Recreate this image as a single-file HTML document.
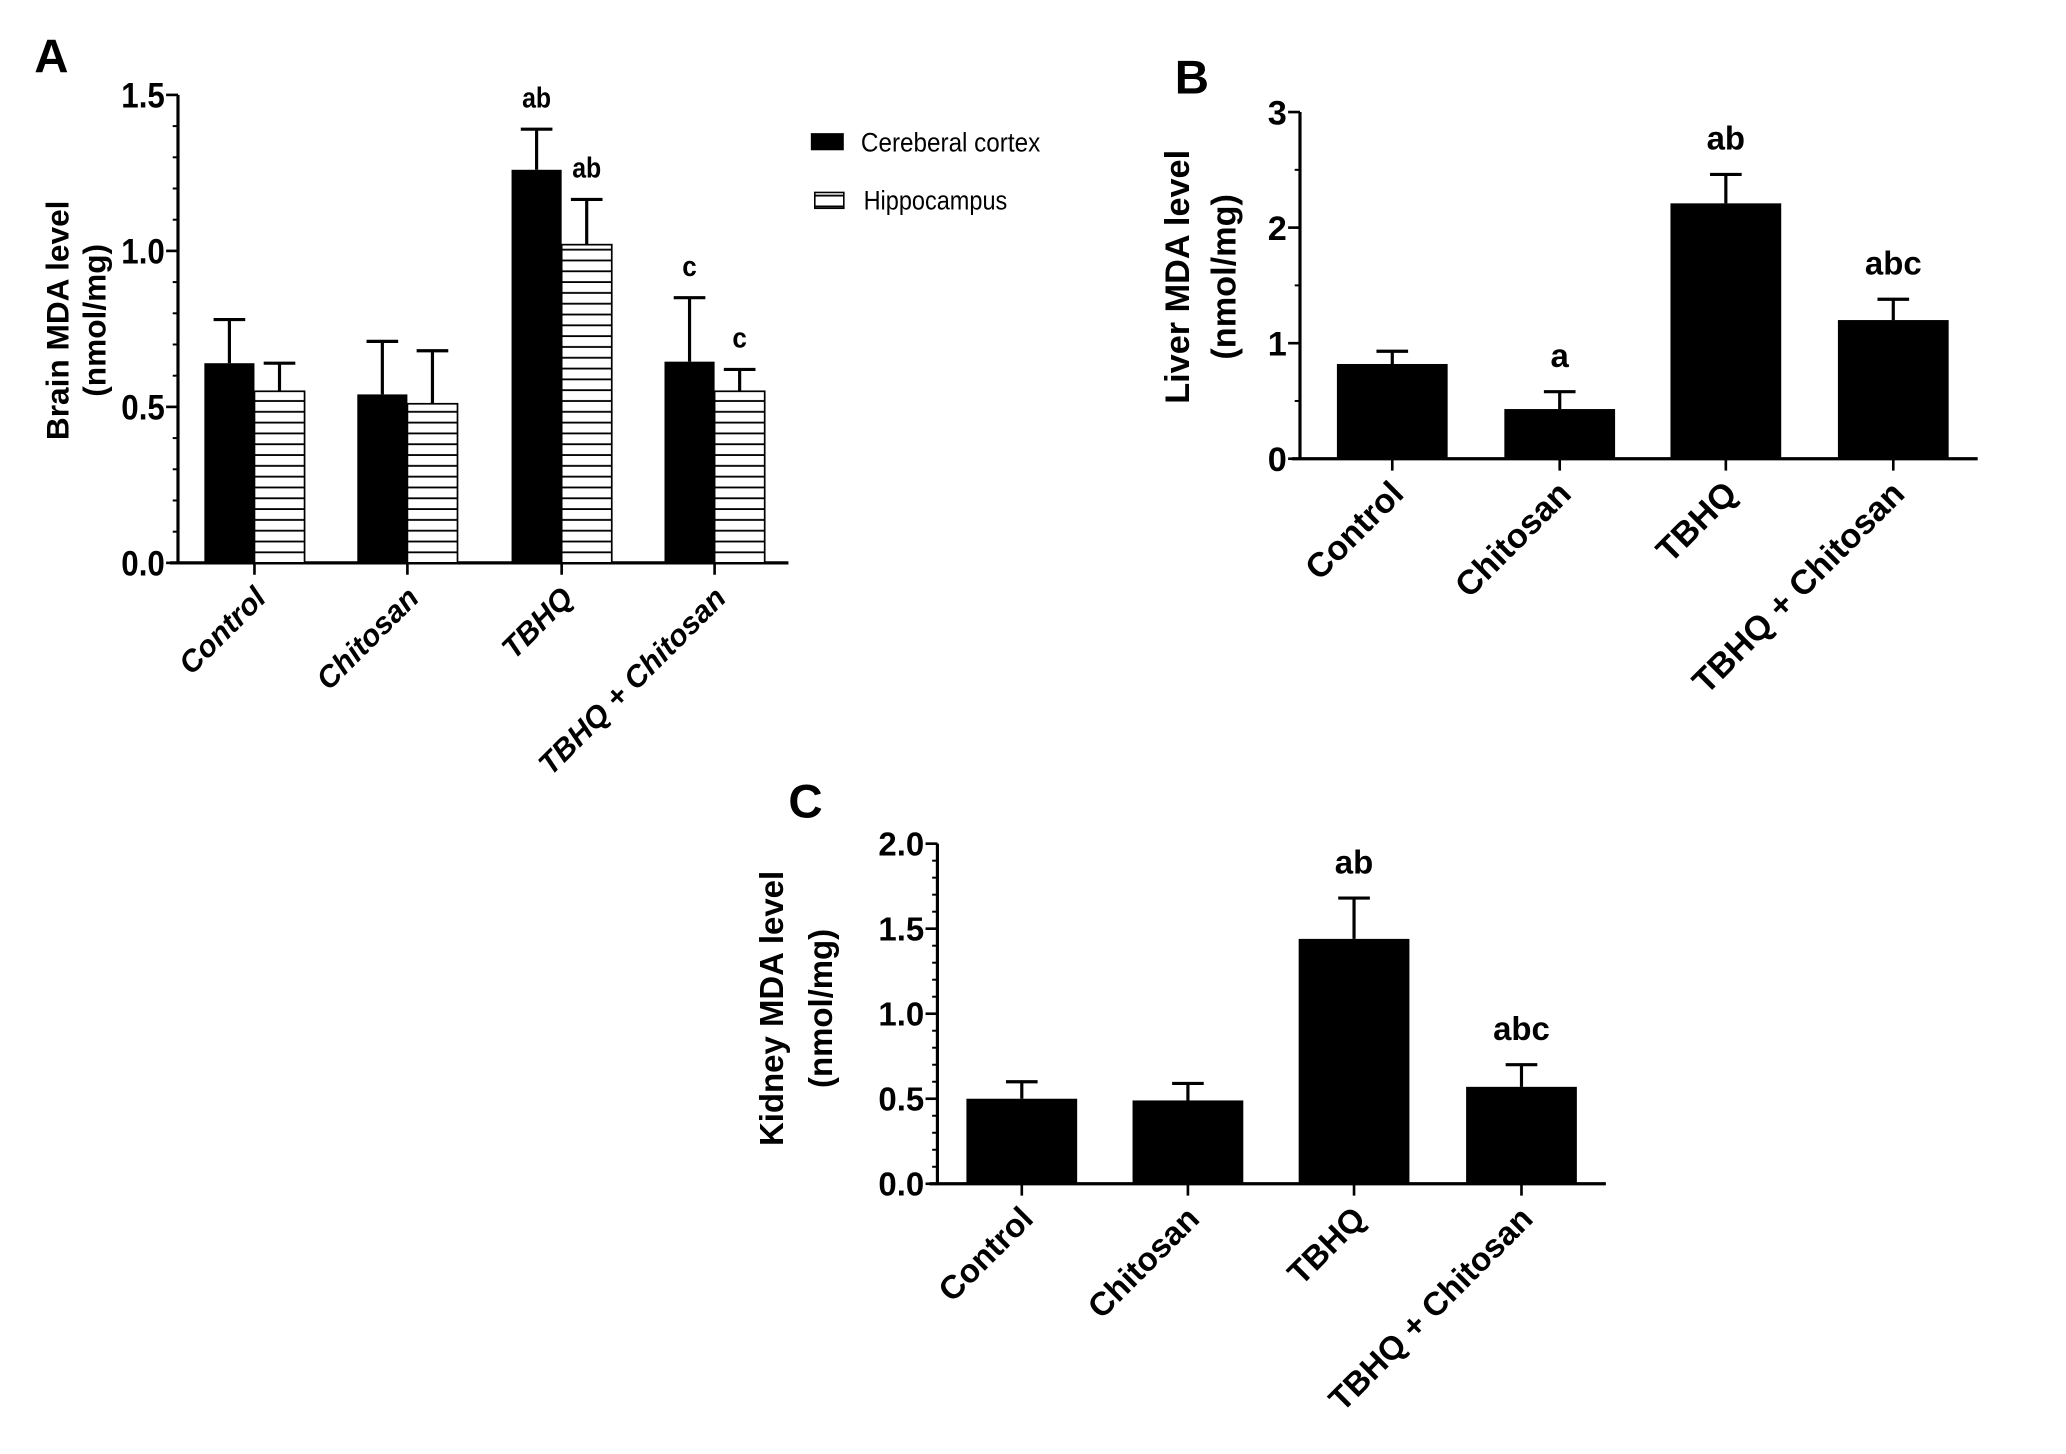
<!DOCTYPE html>
<html><head><meta charset="utf-8"><style>
html,body{margin:0;padding:0;background:#fff;}
svg{display:block;font-family:"Liberation Sans",Arial,sans-serif;}
</style></head><body>
<svg id="fig" width="2066" height="1454" viewBox="0 0 1567 1103" preserveAspectRatio="none" xmlns="http://www.w3.org/2000/svg">
<defs>
<pattern id="hatch" patternUnits="userSpaceOnUse" width="8" height="8.2">
<rect width="8" height="8.2" fill="#fff"/><line x1="0" y1="0.8" x2="8" y2="0.8" stroke="#000" stroke-width="1.4"/>
</pattern>
</defs>
<text x="26" y="55" font-size="36" font-weight="bold">A</text>
<text x="891" y="71" font-size="36" font-weight="bold">B</text>
<text x="598" y="620" font-size="36" font-weight="bold">C</text>
<g>
<rect x="615" y="101" width="25" height="13" fill="#000"/>
<text x="653" y="115" font-size="20" textLength="136" lengthAdjust="spacingAndGlyphs">Cereberal cortex</text>
<rect x="618" y="146" width="22" height="12" fill="url(#hatch)" stroke="#000" stroke-width="1.2"/>
<text x="655" y="159" font-size="20" textLength="109" lengthAdjust="spacingAndGlyphs">Hippocampus</text>
</g>
<g id="pa"></g>
<g id="pb"></g>
<g id="pc"></g>
</svg>
<script>
const categories = ["Control","Chitosan","TBHQ","TBHQ + Chitosan"];
// Panel A
const brainCortex = [0.64,0.54,1.26,0.645];
const brainCortexErr = [0.14,0.17,0.13,0.205];
const brainHippo = [0.55,0.51,1.02,0.55];
const brainHippoErr = [0.09,0.17,0.145,0.07];
const brainCortexSig = ["","","ab","c"];
const brainHippoSig = ["","","ab","c"];
const brainTicks = ["0.0","0.5","1.0","1.5"];
// Panel B
const liver = [0.82,0.43,2.21,1.2];
const liverErr = [0.11,0.15,0.25,0.18];
const liverSig = ["","a","ab","abc"];
const liverTicks = ["0","1","2","3"];
// Panel C
const kidney = [0.5,0.49,1.44,0.57];
const kidneyErr = [0.1,0.1,0.24,0.13];
const kidneySig = ["","","ab","abc"];
const kidneyTicks = ["0.0","0.5","1.0","1.5","2.0"];

const NS="http://www.w3.org/2000/svg";
function mk(parent,tag,attrs,text){const e=document.createElementNS(NS,tag);for(const k in attrs)e.setAttribute(k,attrs[k]);if(text!==undefined)e.textContent=text;parent.appendChild(e);return e;}

function axes(g,cfg){
  const y=v=>cfg.y0-(v/cfg.max)*(cfg.y0-cfg.yTop);
  let ax=mk(g,'line',{x1:cfg.x0,y1:cfg.yTop,x2:cfg.x0,y2:cfg.y0+1,stroke:'#000','stroke-width':2.4});
  
  
  let xa=mk(g,'line',{x1:cfg.x0-6,y1:cfg.y0,x2:cfg.xEnd,y2:cfg.y0,stroke:'#000','stroke-width':2.4});
  
  
  const nMinor=Math.round(cfg.max/cfg.minor);
  for(let i=0;i<=nMinor;i++){
    const v=i*cfg.minor;
    const t=mk(g,'line',{x1:cfg.x0-4,y1:y(v),x2:cfg.x0,y2:y(v),stroke:'#000','stroke-width':1.5});
    
    
  }
  cfg.ticks.forEach(lbl=>{
    const v=parseFloat(lbl);
    const t=mk(g,'line',{x1:cfg.x0-9,y1:y(v),x2:cfg.x0,y2:y(v),stroke:'#000','stroke-width':2});
    
    
    const tx=mk(g,'text',{x:cfg.x0-10,y:y(v)+cfg.tickFs*0.36,'font-size':cfg.tickFs,'font-weight':'bold','text-anchor':'end'},lbl);
    if(cfg.narrow){tx.setAttribute('textLength',lbl.length*11);tx.setAttribute('lengthAdjust','spacingAndGlyphs');}
    
    
  });
  categories.forEach((c,i)=>{
    const cx=cfg.centers[i];
    const t=mk(g,'line',{x1:cx,y1:cfg.y0,x2:cx,y2:cfg.y0+9,stroke:'#000','stroke-width':2});
    
    
    const tx=mk(g,'text',{x:0,y:0,'font-size':cfg.xFs,'font-weight':'bold','text-anchor':'end','font-style':cfg.italic?'italic':'normal',transform:`translate(${cx+10},${cfg.y0+28}) rotate(-45)`},c);
    
    
  });
  const t1=mk(g,'text',{x:0,y:0,'font-size':cfg.titleFs,'font-weight':'bold','text-anchor':'middle',transform:`translate(${cfg.titleX},${cfg.titleY}) rotate(-90)`},cfg.title);
  
  
  const t2=mk(g,'text',{x:0,y:0,'font-size':cfg.titleFs,'font-weight':'bold','text-anchor':'middle',transform:`translate(${cfg.titleX+cfg.titleGap},${cfg.titleY}) rotate(-90)`},'(nmol/mg)');
  
  
  return y;
}
function bar(g,y,x,w,v,err,sig,fill,name,sigFs,narrow){
  const r=mk(g,'rect',{x:x,y:y(v),width:w,height:y(0)-y(v),fill:fill,stroke:'#000','stroke-width':fill==='#000'?0:1.3});
  
  
  const cx=x+w/2;
  const e=mk(g,'path',{d:`M${cx},${y(v)} V${y(v+err)} M${cx-12},${y(v+err)} H${cx+12}`,stroke:'#000','stroke-width':2.4,fill:'none'});
  
  
  if(sig){
    const s=mk(g,'text',{x:cx,y:y(v+err)-sigFs*0.75,'font-size':sigFs,'font-weight':'bold','text-anchor':'middle'},sig);
    if(narrow){s.setAttribute('textLength',sig.length*11);s.setAttribute('lengthAdjust','spacingAndGlyphs');}
    
    
  }
}
// Panel A
(function(){
  const g=document.getElementById('pa');
  const centers=[193,309,426,542];
  const y=axes(g,{x0:135,yTop:72,y0:427,max:1.5,minor:0.1,xEnd:598,ticks:brainTicks,centers,tickFs:27,xFs:23,italic:true,narrow:true,title:'Brain MDA level',titleX:52,titleY:243,titleGap:28,titleFs:24});
  centers.forEach((c,i)=>{
    bar(g,y,c-38,38,brainCortex[i],brainCortexErr[i],brainCortexSig[i],'#000','bar-cortex-'+i,22,true);
    bar(g,y,c,38,brainHippo[i],brainHippoErr[i],brainHippoSig[i],'url(#hatch)','bar-hippocampus-'+i,22,true);
  });
})();
// Panel B
(function(){
  const g=document.getElementById('pb');
  const centers=[1056,1183,1309,1436];
  const y=axes(g,{x0:986,yTop:85,y0:348,max:3,minor:0.5,xEnd:1500,ticks:liverTicks,centers,tickFs:26,xFs:26,italic:false,title:'Liver MDA level',titleX:902,titleY:210,titleGap:35,titleFs:26});
  centers.forEach((c,i)=>bar(g,y,c-42,84,liver[i],liverErr[i],liverSig[i],'#000','bar-liver-'+i,25,false));
})();
// Panel C
(function(){
  const g=document.getElementById('pc');
  const centers=[775,901,1027,1154];
  const y=axes(g,{x0:711,yTop:640,y0:898,max:2,minor:0.1,xEnd:1218,ticks:kidneyTicks,centers,tickFs:25,xFs:25,italic:false,title:'Kidney  MDA level',titleX:594,titleY:765,titleGap:37,titleFs:25});
  centers.forEach((c,i)=>bar(g,y,c-42,84,kidney[i],kidneyErr[i],kidneySig[i],'#000','bar-kidney-'+i,25,false));
})();
</script>
</body></html>
